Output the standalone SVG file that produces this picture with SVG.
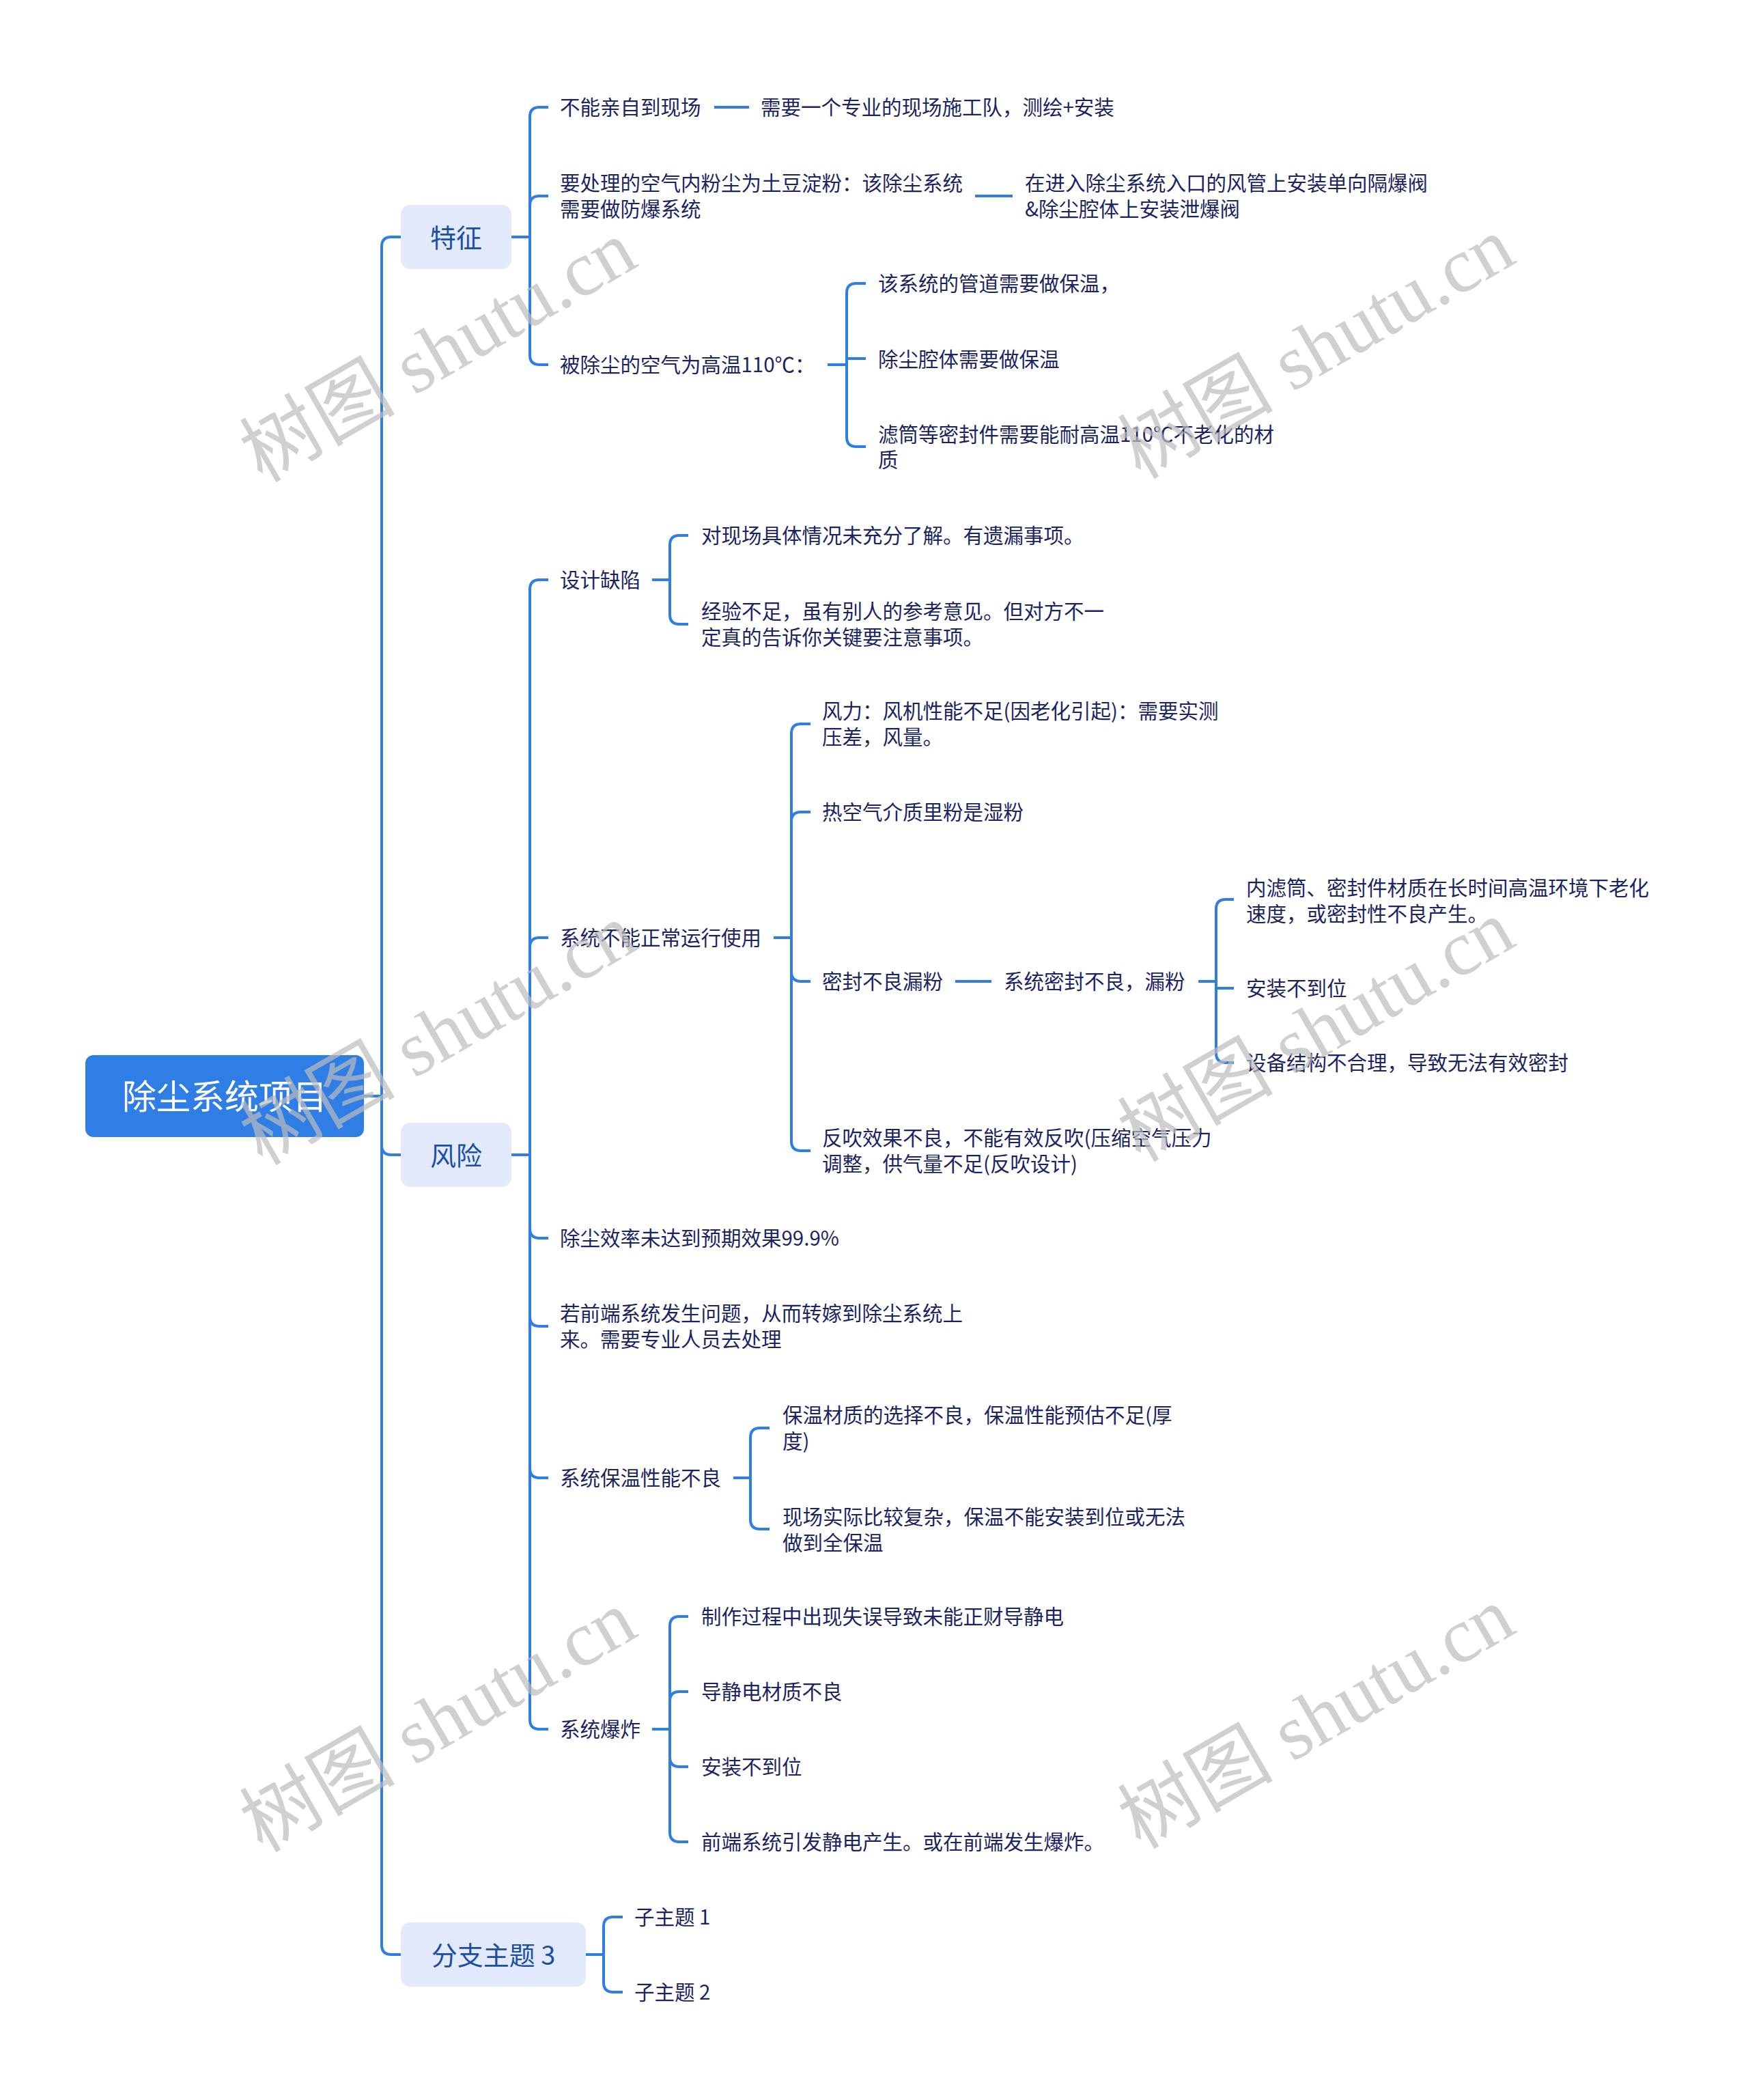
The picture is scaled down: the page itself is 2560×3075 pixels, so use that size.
<svg xmlns="http://www.w3.org/2000/svg" width="2560" height="3075" viewBox="0 0 2560 3075">
<style>
.t{font-family:"Noto Sans CJK SC","Noto Sans",sans-serif;font-size:29.5px;fill:#1b2462}
.b{font-family:"Noto Sans CJK SC","Noto Sans",sans-serif;font-size:38px;fill:#1c4fa3;text-anchor:middle}
.r{font-family:"Noto Sans CJK SC","Noto Sans",sans-serif;font-size:50px;fill:#ffffff;text-anchor:middle}
.bx{fill:#e1e9fb}
#connectors path{fill:none;stroke:#2f7ee5;stroke-width:4;stroke-linecap:butt;stroke-linejoin:round}
.wm{font-family:"Liberation Serif","Noto Sans CJK SC",serif;font-size:114px;fill:#bdbdbd;opacity:0.7;text-anchor:middle}
</style>
<rect width="2560" height="3075" fill="#ffffff"/>
<g id="connectors">
<path d="M533 1605 H559 V361 Q559 347 573 347 H587"/>
<path d="M533 1605 H559 V1677 Q559 1691 573 1691 H587"/>
<path d="M533 1605 H559 V2848 Q559 2862 573 2862 H587"/>
<path d="M749 347 H776 V171 Q776 157 790 157 H803"/>
<path d="M749 347 H776 V301 Q776 287 790 287 H803"/>
<path d="M749 347 H776 V520 Q776 534 790 534 H803"/>
<path d="M1046 157 H1097"/>
<path d="M1428 287 H1483"/>
<path d="M1212 534 H1240 V429 Q1240 415 1254 415 H1268"/>
<path d="M1212 534 H1240 V525 H1268"/>
<path d="M1212 534 H1240 V640 Q1240 654 1254 654 H1268"/>
<path d="M749 1691 H776 V863 Q776 849 790 849 H803"/>
<path d="M749 1691 H776 V1387 Q776 1373 790 1373 H803"/>
<path d="M749 1691 H776 V1799 Q776 1813 790 1813 H803"/>
<path d="M749 1691 H776 V1928 Q776 1942 790 1942 H803"/>
<path d="M749 1691 H776 V2150 Q776 2164 790 2164 H803"/>
<path d="M749 1691 H776 V2518 Q776 2532 790 2532 H803"/>
<path d="M955 849 H981 V798 Q981 784 995 784 H1008"/>
<path d="M955 849 H981 V900 Q981 914 995 914 H1008"/>
<path d="M1133 1373 H1159 V1074 Q1159 1060 1173 1060 H1187"/>
<path d="M1133 1373 H1159 V1203 Q1159 1189 1173 1189 H1187"/>
<path d="M1133 1373 H1159 V1423 Q1159 1437 1173 1437 H1187"/>
<path d="M1133 1373 H1159 V1671 Q1159 1685 1173 1685 H1187"/>
<path d="M1399 1437 H1452"/>
<path d="M1755 1437 H1781 V1331 Q1781 1317 1795 1317 H1807"/>
<path d="M1755 1437 H1781 V1447 H1807"/>
<path d="M1755 1437 H1781 V1542 Q1781 1556 1795 1556 H1807"/>
<path d="M1074 2164 H1099 V2105 Q1099 2091 1113 2091 H1127"/>
<path d="M1074 2164 H1099 V2225 Q1099 2239 1113 2239 H1127"/>
<path d="M955 2532 H981 V2381 Q981 2367 995 2367 H1008"/>
<path d="M955 2532 H981 V2491 Q981 2477 995 2477 H1008"/>
<path d="M955 2532 H981 V2573 Q981 2587 995 2587 H1008"/>
<path d="M955 2532 H981 V2683 Q981 2697 995 2697 H1008"/>
<path d="M858 2862 H884 V2821 Q884 2807 898 2807 H912"/>
<path d="M858 2862 H884 V2903 Q884 2917 898 2917 H912"/>
</g>
<g id="root"><rect x="125" y="1545" width="408" height="120" rx="12" fill="#2f7ee5"/><text class="r" x="329" y="1624">除尘系统项目</text></g>
<g id="b-tezheng"><rect class="bx" x="587" y="300" width="162" height="94" rx="14"/><text class="b" x="668" y="361.5">特征</text></g>
<g id="b-fengxian"><rect class="bx" x="587" y="1644" width="162" height="94" rx="14"/><text class="b" x="668" y="1705.5">风险</text></g>
<g id="b-fenzhi3"><rect class="bx" x="587" y="2815" width="271" height="94" rx="14"/><text class="b" x="722.5" y="2876.5">分支主题 3</text></g>
<g id="n1"><text class="t" x="820" y="168">不能亲自到现场</text></g>
<g id="n1a"><text class="t" x="1114" y="168">需要一个专业的现场施工队，测绘+安装</text></g>
<g id="n2"><text class="t" x="820" y="279">要处理的空气内粉尘为土豆淀粉：该除尘系统<tspan x="820" y="317">需要做防爆系统</tspan></text></g>
<g id="n2a"><text class="t" x="1501" y="279">在进入除尘系统入口的风管上安装单向隔爆阀<tspan x="1501" y="317">&amp;除尘腔体上安装泄爆阀</tspan></text></g>
<g id="n3"><text class="t" x="820" y="545">被除尘的空气为高温110℃：</text></g>
<g id="n3a"><text class="t" x="1286" y="426">该系统的管道需要做保温，</text></g>
<g id="n3b"><text class="t" x="1286" y="537">除尘腔体需要做保温</text></g>
<g id="n3c"><text class="t" x="1286" y="647">滤筒等密封件需要能耐高温110℃不老化的材<tspan x="1286" y="684">质</tspan></text></g>
<g id="r1"><text class="t" x="820" y="860">设计缺陷</text></g>
<g id="r1a"><text class="t" x="1027" y="795">对现场具体情况未充分了解。有遗漏事项。</text></g>
<g id="r1b"><text class="t" x="1027" y="906">经验不足，虽有别人的参考意见。但对方不一<tspan x="1027" y="944">定真的告诉你关键要注意事项。</tspan></text></g>
<g id="r2"><text class="t" x="820" y="1384">系统不能正常运行使用</text></g>
<g id="r2a"><text class="t" x="1204" y="1052">风力：风机性能不足(因老化引起)：需要实测<tspan x="1204" y="1090">压差，风量。</tspan></text></g>
<g id="r2b"><text class="t" x="1204" y="1200">热空气介质里粉是湿粉</text></g>
<g id="r2c"><text class="t" x="1204" y="1448">密封不良漏粉</text></g>
<g id="r2c1"><text class="t" x="1470" y="1448">系统密封不良，漏粉</text></g>
<g id="r2c1a"><text class="t" x="1825" y="1311">内滤筒、密封件材质在长时间高温环境下老化<tspan x="1825" y="1349">速度，或密封性不良产生。</tspan></text></g>
<g id="r2c1b"><text class="t" x="1825" y="1458">安装不到位</text></g>
<g id="r2c1c"><text class="t" x="1825" y="1567">设备结构不合理，导致无法有效密封</text></g>
<g id="r2d"><text class="t" x="1204" y="1677">反吹效果不良，不能有效反吹(压缩空气压力<tspan x="1204" y="1715">调整，供气量不足(反吹设计)</tspan></text></g>
<g id="r3"><text class="t" x="820" y="1824">除尘效率未达到预期效果99.9%</text></g>
<g id="r4"><text class="t" x="820" y="1934">若前端系统发生问题，从而转嫁到除尘系统上<tspan x="820" y="1972">来。需要专业人员去处理</tspan></text></g>
<g id="r5"><text class="t" x="820" y="2175">系统保温性能不良</text></g>
<g id="r5a"><text class="t" x="1146" y="2083">保温材质的选择不良，保温性能预估不足(厚<tspan x="1146" y="2121">度)</tspan></text></g>
<g id="r5b"><text class="t" x="1146" y="2232">现场实际比较复杂，保温不能安装到位或无法<tspan x="1146" y="2270">做到全保温</tspan></text></g>
<g id="r6"><text class="t" x="820" y="2543">系统爆炸</text></g>
<g id="r6a"><text class="t" x="1027" y="2378">制作过程中出现失误导致未能正财导静电</text></g>
<g id="r6b"><text class="t" x="1027" y="2488">导静电材质不良</text></g>
<g id="r6c"><text class="t" x="1027" y="2598">安装不到位</text></g>
<g id="r6d"><text class="t" x="1027" y="2708">前端系统引发静电产生。或在前端发生爆炸。</text></g>
<g id="s1"><text class="t" x="929" y="2818">子主题 1</text></g>
<g id="s2"><text class="t" x="929" y="2928">子主题 2</text></g>
<g id="watermarks">
<text class="wm" transform="translate(642 515) rotate(-30)" y="38">树图 shutu.cn</text>
<text class="wm" transform="translate(1928 510) rotate(-30)" y="38">树图 shutu.cn</text>
<text class="wm" transform="translate(642 1515) rotate(-30)" y="38">树图 shutu.cn</text>
<text class="wm" transform="translate(1928 1510) rotate(-30)" y="38">树图 shutu.cn</text>
<text class="wm" transform="translate(642 2521) rotate(-30)" y="38">树图 shutu.cn</text>
<text class="wm" transform="translate(1928 2516) rotate(-30)" y="38">树图 shutu.cn</text>
</g>
</svg>
